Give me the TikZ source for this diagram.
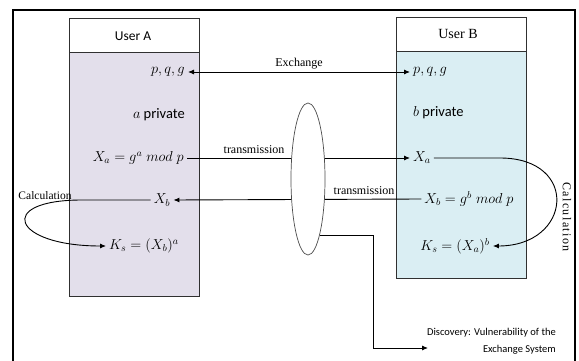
\documentclass[tikz,border=0pt]{standalone}
\usepackage{fontspec}
\setmainfont{Carlito}
\newfontfamily\serifface{Liberation Serif}
\usetikzlibrary{arrows.meta,shapes.geometric,calc}
\definecolor{lavender}{HTML}{E3DFEB}
\definecolor{paleblue}{HTML}{DAEEF3}
\definecolor{boxline}{HTML}{303030}
\tikzset{
  userbox/.style={draw=boxline,line width=0.9pt},
  mathlbl/.style={font=\fontsize{14.5}{16}\selectfont,inner sep=3pt},
  txtlbl/.style={font=\fontsize{14.5}{16}\selectfont,inner sep=1pt},
  seriflbl/.style={font=\serifface\fontsize{12}{14}\selectfont,inner sep=1pt},
  link/.style={line width=0.9pt},
  tip/.style={-{Latex[length=6pt,width=5pt]}},
}
\begin{document}
\begin{tikzpicture}[x=1pt,y=-1pt]
\useasboundingbox (0,0) rectangle (579,361);
% outer frame
\draw[line width=2.6pt] (13,361) -- (13,10) -- (575,10) -- (575,361);

% user boxes
\fill[lavender] (69,52) rectangle (199,296);
\draw[userbox] (69,18) rectangle (199,296);
\draw[userbox] (69,52) -- (199,52);
\fill[paleblue] (396,51) rectangle (526,278);
\draw[userbox] (396,17) rectangle (526,278);
\draw[userbox] (396,51) -- (526,51);
\node[txtlbl,font=\fontsize{13.5}{15}\selectfont] (hA) at (133,36) {User A};
\node[seriflbl,font=\serifface\fontsize{14}{16}\selectfont] (hB) at (458,34) {User B};

% user A contents
\node[mathlbl,anchor=east] (apqg) at (188,72) {$p,q,g$};
\node[txtlbl,anchor=east] (apriv) at (186,115) {$a$ private};
\node[mathlbl,anchor=east] (aXa) at (187,158) {$X_a = g^a\;mod\;p$};
\node[mathlbl] (aXb) at (162,200) {$X_b$};
\node[mathlbl,anchor=west] (aKs) at (106,246) {$K_s = (X_b)^a$};

% user B contents
\node[mathlbl,anchor=west] (bpqg) at (410,72) {$p,q,g$};
\node[txtlbl,anchor=west] (bpriv) at (412,113) {$b$ private};
\node[mathlbl,anchor=west] (bXa) at (410,158) {$X_a$};
\node[mathlbl] (bXb) at (469,199) {$X_b = g^b\;mod\;p$};
\node[mathlbl] (bKs) at (455,246) {$K_s = (X_a)^b$};

% exchange of public parameters
\draw[link,{Latex[length=6pt,width=5pt]}-{Latex[length=6pt,width=5pt]}] (apqg.east) -- (bpqg.west)
  node[seriflbl,midway,above=1pt] (exch) {Exchange};

% transmissions through the channel
\draw[link,tip] (aXa.east) -- (bXa.west);
\draw[link,tip] (bXb.west) -- (aXb.east);
\node[seriflbl] (tr1) at (254,150) {transmission};
\node[seriflbl] (tr2) at (364,191) {transmission};

% eavesdropper on the channel
\node[draw=black!70,fill=white,ellipse,line width=0.7pt,minimum width=34pt,minimum height=152pt,inner sep=0pt] (eve) at (308,179) {};

% discovery branch
\coordinate (dA) at ($(eve.center)+(12,56)$);
\coordinate (dB) at (373,235);
\coordinate (dC) at (373,348);
\coordinate (dD) at (428,348);
\draw[link] (dA) -- (dB) -- (dC);
\draw[link,tip] (dC) -- (dD);
\node[font=\fontsize{10.5}{17.5}\selectfont,align=right,anchor=north east,inner sep=0pt] (disc) at (556,328)
  {Discovery: Vulnerability of the\\Exchange System};

% key calculation loops
\draw[link,tip] (aXb.west) -- (82,200) .. controls (-5,200) and (12,246) .. (aKs.west);
\node[seriflbl,font=\serifface\fontsize{11.5}{13}\selectfont] (calcA) at (45,196) {Calculation};
\draw[link,tip] (bXa.east) -- (500,158) .. controls (580,158) and (572,246) .. (bKs.east);
\node[seriflbl,font=\serifface\addfontfeature{LetterSpace=12}\fontsize{12}{14}\selectfont,rotate=-90] (calcB) at (567,217) {Calculation};
\end{tikzpicture}
\end{document}
